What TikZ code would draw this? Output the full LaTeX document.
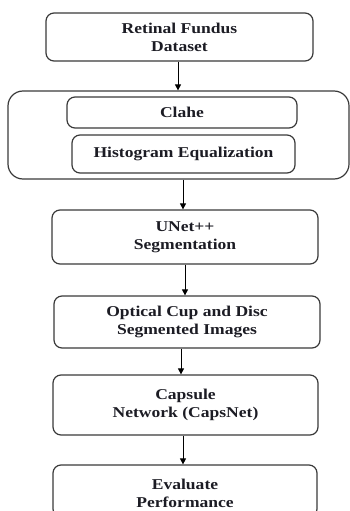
\documentclass[tikz,border=0pt]{standalone}
\usepackage{fontspec}
\setmainfont{Liberation Serif}[FakeStretch=1.17]
\usetikzlibrary{arrows.meta}
\definecolor{edge}{HTML}{3A3A3A}
\definecolor{ink}{HTML}{1C1C24}
\tikzset{
  stepbox/.style={draw=edge, line width=1.2pt, rounded corners=8pt, fill=white,
    inner sep=0pt, align=center, text=ink,
    font=\fontsize{15}{18}\selectfont\bfseries},
  groupbox/.style={draw=edge, line width=1.2pt, rounded corners=15pt, inner sep=0pt},
  flow/.style={draw=black, line width=0.8pt, -{Triangle[length=6pt,width=6pt]}}
}
\begin{document}
\begin{tikzpicture}[x=1pt,y=-1pt]
  \useasboundingbox (0,0) rectangle (350,511);
  \clip (0,0) rectangle (350,511);

  % pre-processing group
  \node[groupbox, minimum width=341pt, minimum height=88pt] (prep) at (178.5,135) {};
  \node[stepbox, minimum width=230pt, minimum height=31pt] (clahe) at (182,112.5) {Clahe};
  \node[stepbox, minimum width=223pt, minimum height=38pt] (hist) at (183.5,154) {Histogram Equalization};

  % pipeline stages
  \node[stepbox, minimum width=267pt, minimum height=48pt] (data) at (179.5,37) {Retinal Fundus\\Dataset};
  \node[stepbox, minimum width=266pt, minimum height=54pt] (unet) at (185,237) {UNet++\\Segmentation};
  \node[stepbox, minimum width=266pt, minimum height=52pt] (seg) at (187,322) {Optical Cup and Disc\\Segmented Images};
  \node[stepbox, minimum width=265pt, minimum height=60pt] (caps) at (185.5,405) {Capsule\\Network (CapsNet)};
  \node[stepbox, minimum width=264pt, minimum height=52pt, text depth=0pt] (eval) at (185,491) {};
  \node[align=center, text=ink, font=\fontsize{15}{18}\selectfont\bfseries] (evaltxt) at (185,493) {Evaluate\\Performance};

  % connectors
  \draw[flow] ([xshift=-1.5pt]data.south) -- ([xshift=-1.5pt]data.south |- prep.north);
  \draw[flow] ([xshift=4.5pt]prep.south) -- ([xshift=4.5pt]prep.south |- unet.north);
  \draw[flow] (unet.south) -- (unet.south |- seg.north);
  \draw[flow] ([xshift=-6pt]seg.south) -- ([xshift=-6pt]seg.south |- caps.north);
  \draw[flow] ([xshift=-2.5pt]caps.south) -- ([xshift=-2.5pt]caps.south |- eval.north);
\end{tikzpicture}
\end{document}
